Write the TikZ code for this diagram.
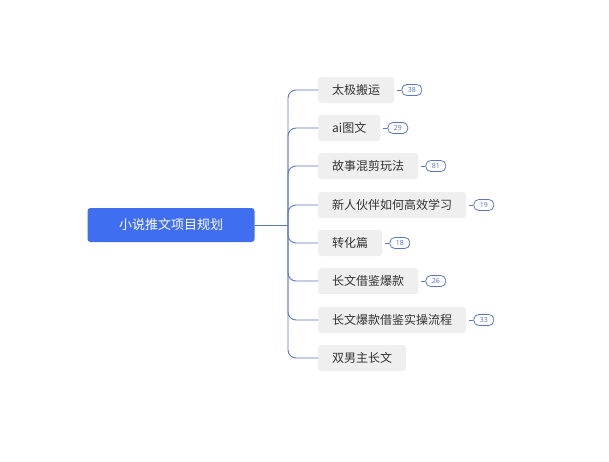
\documentclass[tikz,border=0pt]{standalone}
\usepackage{fontspec}
\usetikzlibrary{positioning}
\newfontfamily\cjk{Noto Sans CJK SC}
\newfontfamily\numfont{Noto Sans}
\definecolor{rootblue}{HTML}{3F6FF0}
\definecolor{linkblue}{HTML}{5B78C8}
\definecolor{boxgray}{HTML}{EFEFEF}
\begin{document}
\begin{tikzpicture}
    [x=1pt, y=-1pt,
     every node/.style={font=\cjk\fontsize{12}{14}\selectfont},
     rootbox/.style={fill=rootblue, text=white, rounded corners=3pt,
       minimum width=167pt, minimum height=34pt, font=\cjk\fontsize{13}{15}\selectfont},
     topicbox/.style={fill=boxgray, text=black!80, rounded corners=3pt,
       minimum height=26pt, inner xsep=14pt, anchor=west},
     badge/.style={draw=linkblue, text=linkblue, rounded corners=5pt, line width=0.8pt,
       minimum width=20pt, minimum height=11pt, inner sep=1pt,
       font=\numfont\bfseries\fontsize{7}{8}\selectfont},
     branch/.style={draw=linkblue, line width=0.9pt, rounded corners=8pt}]

    \useasboundingbox (0,0) rectangle (609,461);

    \node[rootbox] (root) at (171,225) {小说推文项目规划};
    \coordinate (hub) at (288,225);
    \draw[branch] (root.east) -- (hub);

    % topics
    \foreach \name/\y/\txt/\cnt in {t1/90/太极搬运/38, t2/128/ai图文/29,
        t3/166/故事混剪玩法/81, t4/205/新人伙伴如何高效学习/19, t5/243/转化篇/18,
        t6/281/长文借鉴爆款/26, t7/320/长文爆款借鉴实操流程/33, t8/358/双男主长文/} {
      \node[topicbox] (\name) at (318,\y) {\txt};
      \draw[branch] (hub) |- (\name.west);
      \ifx\cnt\empty\else
        \node[badge, right=7pt of \name.east] (\name b) {\cnt};
        \draw[draw=linkblue, line width=0.8pt] (\name b.west) -- ++(-4,0);
      \fi
    }
\end{tikzpicture}
\end{document}
